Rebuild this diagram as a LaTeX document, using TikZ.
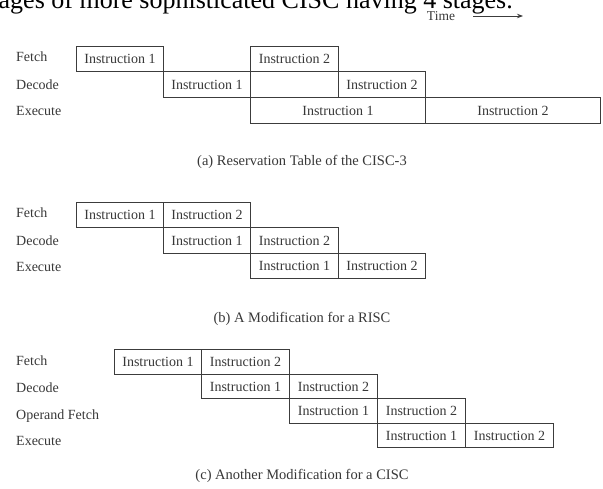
\documentclass[tikz,border=0pt]{standalone}
\usepackage{fontspec}
\setmainfont{Liberation Serif}
\usetikzlibrary{arrows.meta}
\definecolor{ln}{HTML}{3C3C3C}
\definecolor{tx}{HTML}{383838}
\tikzset{
  cell/.style={draw=ln, line width=0.9pt, inner sep=0pt, anchor=north west, text=tx,
    font=\fontsize{14}{16}\selectfont, text height=9.5pt, text depth=0pt},
  lbl/.style={anchor=west, text=tx, inner sep=0pt, font=\fontsize{14}{16}\selectfont,
    text height=9.5pt, text depth=3pt},
  captxt/.style={text=tx, inner sep=0pt, font=\fontsize{14.5}{16}\selectfont,
    text height=10pt, text depth=3pt},
}
\begin{document}
\begin{tikzpicture}[x=1pt,y=-1pt]
\useasboundingbox[fill=white] (0,0) rectangle (603,489);
% cut-off text at the top
\node[anchor=base east, inner sep=0pt, font=\fontsize{26}{28}\selectfont] (toptext) at (513,8.5) {ages of more sophisticated CISC having 4 stages.};
% time arrow
\node[text=tx, inner sep=0pt, font=\fontsize{13.5}{16}\selectfont] (time) at (441,16.5) {Time};
\coordinate (ts) at (473,16);
\coordinate (te) at (523,16);
\draw[ln, line width=0.9pt, -{Stealth[length=6pt,width=4.5pt]}] (ts) -- (te);

% ---------------- (a)
\node[lbl] (aF) at (16,58) {Fetch};
\node[lbl] (aD) at (16,86) {Decode};
\node[lbl] (aE) at (16,112) {Execute};
\node[cell, minimum width=87pt, minimum height=25pt] (af1) at (76,46) {Instruction 1};
\node[cell, minimum width=88pt, minimum height=25pt] (af2) at (250,46) {Instruction 2};
\node[cell, minimum width=87pt, minimum height=26pt] (ad1) at (163,71) {Instruction 1};
\node[cell, minimum width=87pt, minimum height=26pt] (ad2) at (338,71) {Instruction 2};
\node[cell, minimum width=175pt, minimum height=26pt] (ae1) at (250,97) {Instruction 1};
\node[cell, minimum width=175pt, minimum height=26pt] (ae2) at (425,97) {Instruction 2};
\node[captxt] (capa) at (302,162) {(a) Reservation Table of the CISC-3};

% ---------------- (b)
\node[lbl] (bF) at (16,214) {Fetch};
\node[lbl] (bD) at (16,242) {Decode};
\node[lbl] (bE) at (16,268) {Execute};
\node[cell, minimum width=87pt, minimum height=25pt] (bf1) at (76,202) {Instruction 1};
\node[cell, minimum width=87pt, minimum height=25pt] (bf2) at (163,202) {Instruction 2};
\node[cell, minimum width=87pt, minimum height=26pt] (bd1) at (163,227) {Instruction 1};
\node[cell, minimum width=88pt, minimum height=26pt] (bd2) at (250,227) {Instruction 2};
\node[cell, minimum width=88pt, minimum height=25pt] (be1) at (250,253) {Instruction 1};
\node[cell, minimum width=87pt, minimum height=25pt] (be2) at (338,253) {Instruction 2};
\node[captxt] (capb) at (302,319) {(b) A Modification for a RISC};

% ---------------- (c)
\node[lbl] (cF) at (16,362) {Fetch};
\node[lbl] (cD) at (16,389) {Decode};
\node[lbl] (cO) at (16,416) {Operand Fetch};
\node[lbl] (cE) at (16,442) {Execute};
\node[cell, minimum width=87pt, minimum height=25pt] (cf1) at (114,349) {Instruction 1};
\node[cell, minimum width=88pt, minimum height=25pt] (cf2) at (201,349) {Instruction 2};
\node[cell, minimum width=88pt, minimum height=24pt] (cd1) at (201,374) {Instruction 1};
\node[cell, minimum width=88pt, minimum height=24pt] (cd2) at (289,374) {Instruction 2};
\node[cell, minimum width=88pt, minimum height=25pt] (co1) at (289,398) {Instruction 1};
\node[cell, minimum width=88pt, minimum height=25pt] (co2) at (377,398) {Instruction 2};
\node[cell, minimum width=88pt, minimum height=24pt] (ce1) at (377,423) {Instruction 1};
\node[cell, minimum width=88pt, minimum height=24pt] (ce2) at (465,423) {Instruction 2};
\node[captxt] (capc) at (302,476) {(c) Another Modification for a CISC};
\end{tikzpicture}
\end{document}
